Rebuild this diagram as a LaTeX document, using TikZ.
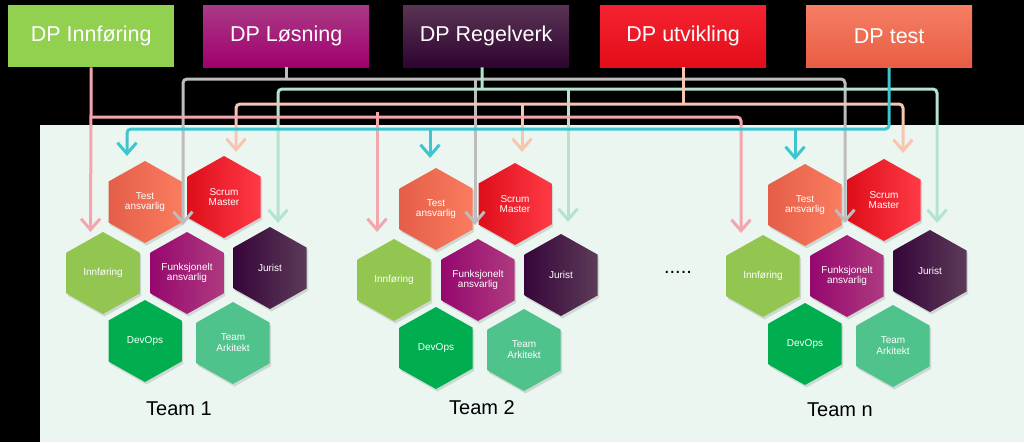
\documentclass[tikz,border=0pt]{standalone}
\usepackage{fontspec}
\setmainfont{Liberation Sans}
\usetikzlibrary{arrows.meta}

\definecolor{bgmint}{HTML}{EBF6F1}
\definecolor{linepink}{HTML}{F4A6AE}
\definecolor{linegray}{HTML}{BDBDBD}
\definecolor{linemint}{HTML}{B4E4CE}
\definecolor{linepeach}{HTML}{F8C6AE}
\definecolor{linecyan}{HTML}{3EC5CE}
\definecolor{innf}{HTML}{92D050}
\definecolor{losA}{HTML}{AA3A86}
\definecolor{losB}{HTML}{A0006E}
\definecolor{regA}{HTML}{5A3454}
\definecolor{regB}{HTML}{2E0430}
\definecolor{utvA}{HTML}{F52231}
\definecolor{utvB}{HTML}{E20D18}
\definecolor{tstA}{HTML}{F57E63}
\definecolor{tstB}{HTML}{E85D44}
\definecolor{testL}{HTML}{E55E48}
\definecolor{testR}{HTML}{FA7C5F}
\definecolor{scrumL}{HTML}{DE0E1A}
\definecolor{scrumR}{HTML}{FF3A46}
\definecolor{innhex}{HTML}{92C650}
\definecolor{funkL}{HTML}{96086E}
\definecolor{funkR}{HTML}{AE3A80}
\definecolor{jurL}{HTML}{36063A}
\definecolor{jurR}{HTML}{5C3A58}
\definecolor{devops}{HTML}{00AE50}
\definecolor{arkitekt}{HTML}{50C28C}

\tikzset{
  dpbox/.style={anchor=north west, minimum width=166pt, minimum height=62pt,
    inner sep=0pt, text=white, font=\fontsize{21.5}{24}\selectfont},
  bus/.style={line width=3pt, rounded corners=4pt},
  feed/.style={bus, -{Straight Barb[length=11pt,width=19pt]}},
  feedboth/.style={bus, {Straight Barb[length=11pt,width=19pt]}-{Straight Barb[length=11pt,width=19pt]}},
  hexlabel/.style={text=white, font=\fontsize{10}{10.8}\selectfont, align=center, inner sep=0pt},
  teamlabel/.style={font=\fontsize{20}{24}\selectfont}
}

% hexagon cell: name, left colour, right colour, relative centre, text
\newcommand{\hexcell}[5]{%
  \fill[black, opacity=0.12, shift={#4}, xshift=1.5pt, yshift=-2.5pt]
    (0,-41) -- (36.5,-20.5) -- (36.5,20.5) -- (0,41) -- (-36.5,20.5) -- (-36.5,-20.5) -- cycle;
  \shade[left color=#2, right color=#3, shift={#4}]
    (0,-41) -- (36.5,-20.5) -- (36.5,20.5) -- (0,41) -- (-36.5,20.5) -- (-36.5,-20.5) -- cycle;
  \node[hexlabel] (#1) at #4 {#5};}

\begin{document}
\begin{tikzpicture}[x=1pt,y=-1pt]
  \useasboundingbox (0,0) rectangle (1024,442);
  \fill[black] (0,0) rectangle (1024,442);
  \fill[bgmint] (40,125) rectangle (1024,442);

  % top boxes
  \node[dpbox, fill=innf] (dpinn) at (8,5) {DP Innføring};
  \node[dpbox, top color=losA, bottom color=losB] (dplos) at (203,5) {DP Løsning};
  \node[dpbox, top color=regA, bottom color=regB] (dpreg) at (403,5) {DP Regelverk};
  \node[dpbox, top color=utvA, bottom color=utvB] (dputv) at (600,5) {DP utvikling};
  \node[dpbox, top color=tstA, bottom color=tstB] (dptest) at (806,5) {DP test};

  % teams
  \foreach \t/\x/\y/\tx/\ty in {1/145/202/179/409, 2/436/209/482/408, n/805/205/840/410} {
    \begin{scope}[shift={(\x,\y)}]
      \hexcell{test\t}{testL}{testR}{(0,0)}{Test\\ansvarlig}
      \hexcell{scrum\t}{scrumL}{scrumR}{(79,-5)}{Scrum\\Master}
      \hexcell{inn\t}{innhex}{innhex}{(-42,71)}{Innføring}
      \hexcell{funk\t}{funkL}{funkR}{(42,71)}{Funksjonelt\\ansvarlig}
      \hexcell{jur\t}{jurL}{jurR}{(125,66)}{Jurist}
      \hexcell{dev\t}{devops}{devops}{(0,139)}{DevOps}
      \hexcell{ark\t}{arkitekt}{arkitekt}{(88,141)}{Team\\Arkitekt}
    \end{scope}
    \node[teamlabel] (team\t) at (\tx,\ty) {Team \t};
  }
  \node[teamlabel] (dots) at (678,272) {.....};

  % arrow ends
  \coordinate (t1pink) at (90.5,232);  \coordinate (t2pink) at (377,232);  \coordinate (tnpink) at (741,233);
  \coordinate (t1gray) at (183,225);   \coordinate (t2gray) at (475,225);  \coordinate (tngray) at (845,223);
  \coordinate (t1mint) at (278,223);   \coordinate (t2mint) at (568,222);  \coordinate (tnmint) at (937,223);
  \coordinate (t1peach) at (236,152);  \coordinate (t2peach) at (522,152); \coordinate (tnpeach) at (903,153);
  \coordinate (t1cyan) at (127,156);   \coordinate (t2cyan) at (430,158);  \coordinate (tncyan) at (795,160);

  % DP Loesning
  \draw[bus, linegray] (dplos.south) -- (dplos.south |- 0,79);
  \draw[feedboth, linegray] (t1gray) |- (t2gray |- 0,79) -| (tngray);
  \draw[feed, linegray] (t2gray |- 0,79) -- (t2gray);
  % DP Regelverk
  \draw[bus, linemint] ([xshift=-4pt]dpreg.south) -- (482,89);
  \draw[feedboth, linemint] (t1mint) |- (t2mint |- 0,89) -| (tnmint);
  \draw[feed, linemint] (t2mint |- 0,89) -- (t2mint);
  % DP utvikling
  \draw[bus, linepeach] (dputv.south) -- (dputv.south |- 0,104);
  \draw[feedboth, linepeach] (t1peach) |- (t2peach |- 0,104) -| (tnpeach);
  \draw[feed, linepeach] (t2peach |- 0,104) -- (t2peach);
  % DP Innfoering
  \draw[feed, linepink] (dpinn.south) -- (t1pink);
  \draw[feed, linepink] (dpinn.south |- 0,117) -| (tnpink);
  \draw[feed, linepink] (t2pink |- 0,112) -- (t2pink);
  % DP test
  \draw[feed, linecyan] (dptest.south) |- (t1cyan |- 0,129) -- (t1cyan);
  \draw[feed, linecyan] (t2cyan |- 0,129) -- (t2cyan);
  \draw[feed, linecyan] (tncyan |- 0,129) -- (tncyan);
\end{tikzpicture}
\end{document}
